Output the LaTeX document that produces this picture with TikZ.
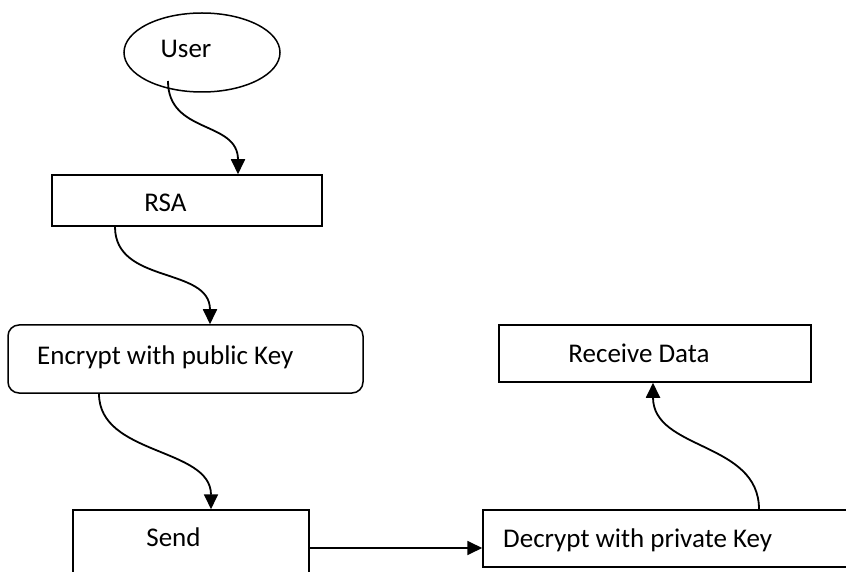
\documentclass[tikz,border=0pt]{standalone}
\usepackage{fontspec}
\setmainfont{Carlito}
\usetikzlibrary{shapes.geometric,arrows.meta,calc}
\begin{document}
\begin{tikzpicture}[x=1pt,y=1pt,
  box/.style={draw,line width=1.5pt,inner sep=0pt},
  txt/.style={inner sep=0pt,font=\fontsize{27}{32}\selectfont},
  conn/.style={line width=1.8pt,-{Triangle[length=15pt,width=14pt]}}]
\useasboundingbox (0,0) rectangle (846,571);
\clip (0,0) rectangle (846,571);
\fill[white] (0,0) rectangle (846,571);
% shapes
\node[box,ellipse,minimum width=156pt,minimum height=79pt] (user) at (202,518.5) {};
\node[box,minimum width=270pt,minimum height=51pt] (rsa) at (187,370.5) {};
\node[box,rounded corners=11pt,minimum width=355pt,minimum height=68pt] (enc) at (185.5,212) {};
\node[box,minimum width=236pt,minimum height=76pt] (send) at (191,23) {};
\node[box,minimum width=387pt,minimum height=57pt] (dec) at (676.5,32.5) {};
\node[box,minimum width=312pt,minimum height=57pt] (rec) at (655,217.5) {};
% texts
\node[txt,anchor=base] (tuser) at (186,513) {User};
\node[txt,anchor=base] (trsa) at (165.5,359) {RSA};
\node[txt,anchor=base west] (tenc) at (37,207) {Encrypt with public Key};
\node[txt,anchor=base] (tsend) at (173.5,25) {Send};
\node[txt,anchor=base west] (tdec) at (503,24) {Decrypt with private Key};
\node[txt,anchor=base] (trec) at (639,209) {Receive Data};
% connectors
\draw[conn] ($(user.center)+(-34,-28.5)$) .. controls ($(user.center)+(-34,-82)$) and ($(rsa.north)+(51,54)$) .. ($(rsa.north)+(51,0)$);
\draw[conn] ($(rsa.south)+(-72,0)$) .. controls ($(rsa.south)+(-72,-58)$) and ($(enc.north)+(24.5,58)$) .. ($(enc.north)+(24.5,0)$);
\draw[conn] ($(enc.south)+(-86.5,0)$) .. controls ($(enc.south)+(-86.5,-62)$) and ($(send.north)+(20,62)$) .. ($(send.north)+(20,0)$);
\draw[conn] (send.east) -- (send.east -| dec.west);
\draw[conn] ($(dec.north)+(82.5,0)$) .. controls ($(dec.north)+(82.5,68)$) and ($(rec.south)+(-2,-68)$) .. ($(rec.south)+(-2,0)$);
\end{tikzpicture}
\end{document}
